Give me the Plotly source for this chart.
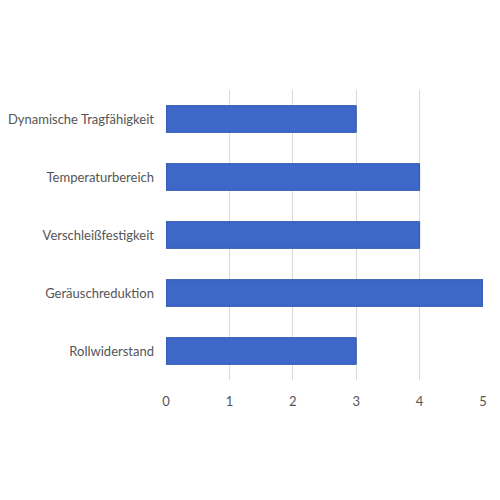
"""Horizontal bar chart of bearing properties."""

import plotly.graph_objects as go

CATEGORIES = [
    "Rollwiderstand",
    "Geräuschreduktion",
    "Verschleißfestigkeit",
    "Temperaturbereich",
    "Dynamische Tragfähigkeit",
]
VALUES = [3, 5, 4, 4, 3]
TICK_VALUES = [0, 1, 2, 3, 4, 5]

BAR_COLOR = "#3d68c9"
TEXT_COLOR = "#555555"
GRID_COLOR = "#d9d9d9"


def create_figure() -> go.Figure:
    fig = go.Figure(go.Bar(
        x=VALUES,
        y=CATEGORIES,
        orientation="h",
        marker=dict(color=BAR_COLOR, line=dict(color="#2f55ad", width=1)),
        hovertemplate="%{y}: %{x}<extra></extra>",
    ))

    # page body adds an 8px offset, so the figure is sized to fit
    fig.update_layout(
        width=492,
        height=492,
        margin=dict(l=158, r=17, t=82, b=120),
        paper_bgcolor="white",
        plot_bgcolor="white",
        bargap=0.54,
        showlegend=False,
        font=dict(family="Lato", size=13, color=TEXT_COLOR),
        xaxis=dict(
            range=[0, 5],
            tickvals=TICK_VALUES,
            showgrid=True,
            gridcolor=GRID_COLOR,
            gridwidth=1,
            zeroline=False,
            showline=False,
            ticklabelstandoff=12,
            automargin=False,
            fixedrange=True,
        ),
        yaxis=dict(
            showgrid=False,
            showline=False,
            ticklabelstandoff=11,
            automargin=False,
            fixedrange=True,
        ),
    )
    return fig


if __name__ == "__main__":
    fig = create_figure()
    fig.write_html("out.html")
